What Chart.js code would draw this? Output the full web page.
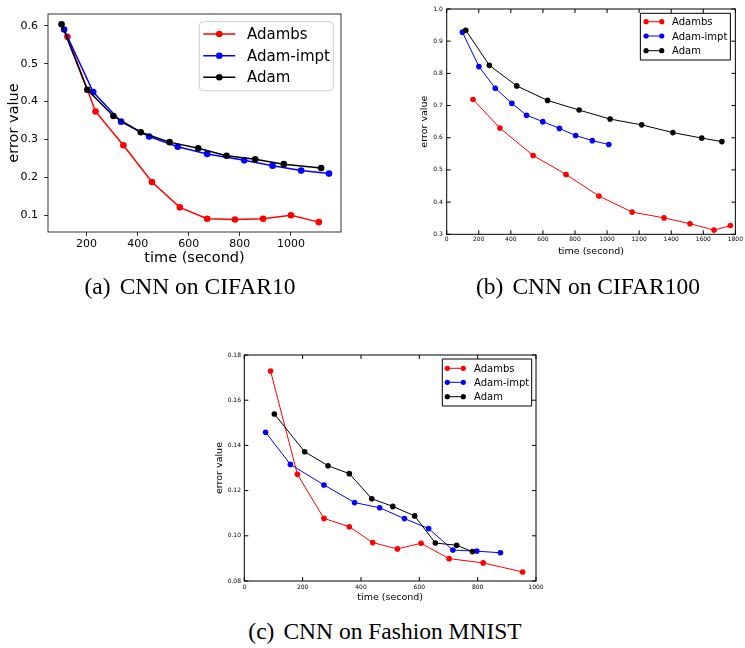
<!DOCTYPE html>
<html>
<head>
<meta charset="utf-8">
<script src="https://cdn.jsdelivr.net/npm/chart.js@4.4.0/dist/chart.umd.min.js"></script>
<style>
  body { margin: 0; background: #fff; width: 745px; height: 648px; position: relative; overflow: hidden; }
  canvas { position: absolute; }
  .cap { position: absolute; font-family: 'Liberation Serif', 'Times New Roman', serif; font-size: 23.5px; color: #000;
         white-space: nowrap; transform: translate(-50%, -50%); }
  .cap span { margin-right: 9px; }
</style>
</head>
<body>
<canvas id="chartA" width="360" height="280" style="left:0;top:0"></canvas>
<canvas id="chartB" width="345" height="270" style="left:400px;top:0"></canvas>
<canvas id="chartC" width="340" height="270" style="left:210px;top:345px"></canvas>
<div class="cap" style="left:190px;top:286px"><span>(a)</span>CNN on CIFAR10</div>
<div class="cap" style="left:588px;top:286px"><span>(b)</span>CNN on CIFAR100</div>
<div class="cap" style="left:385px;top:631px"><span>(c)</span>CNN on Fashion MNIST</div>
<script>
// Datos
const seriesNames = ['Adambs', 'Adam-impt', 'Adam'];
const seriesColors = ['#ff0000', '#0000ff', '#000000'];

// (a) CNN on CIFAR10
const cifar10AdambsTime = [125, 235, 344, 456, 565, 672, 781, 891, 1000, 1109];
const cifar10AdambsErr  = [0.571, 0.374, 0.285, 0.188, 0.121, 0.091, 0.089, 0.091, 0.100, 0.082];
const cifar10ImptTime   = [112, 226, 335, 445, 557, 672, 817, 928, 1040, 1149];
const cifar10ImptErr    = [0.590, 0.425, 0.347, 0.308, 0.281, 0.262, 0.245, 0.231, 0.218, 0.210];
const cifar10AdamTime   = [102, 203, 305, 412, 525, 637, 748, 860, 972, 1118];
const cifar10AdamErr    = [0.604, 0.431, 0.362, 0.319, 0.293, 0.277, 0.257, 0.248, 0.235, 0.225];

// (b) CNN on CIFAR100
const cifar100AdambsTime = [164, 332, 539, 744, 949, 1156, 1355, 1517, 1667, 1769];
const cifar100AdambsErr  = [0.719, 0.630, 0.545, 0.486, 0.419, 0.369, 0.351, 0.333, 0.313, 0.327];
const cifar100ImptTime   = [98, 201, 303, 406, 498, 599, 703, 804, 908, 1011];
const cifar100ImptErr    = [0.928, 0.821, 0.754, 0.707, 0.670, 0.650, 0.629, 0.607, 0.591, 0.579];
const cifar100AdamTime   = [119, 266, 437, 629, 826, 1019, 1216, 1410, 1590, 1716];
const cifar100AdamErr    = [0.934, 0.825, 0.761, 0.716, 0.686, 0.658, 0.640, 0.616, 0.599, 0.588];

// (c) CNN on Fashion MNIST
const fashionAdambsTime = [90, 182, 273, 360, 440, 525, 606, 702, 819, 954];
const fashionAdambsErr  = [0.1729, 0.1272, 0.1077, 0.1040, 0.0970, 0.0942, 0.0967, 0.0899, 0.0880, 0.0840];
const fashionImptTime   = [73, 158, 273, 378, 464, 549, 632, 715, 797, 878];
const fashionImptErr    = [0.1458, 0.1316, 0.1225, 0.1147, 0.1124, 0.1076, 0.1032, 0.0937, 0.0932, 0.0925];
const fashionAdamTime   = [103, 207, 287, 360, 437, 509, 584, 655, 728, 782];
const fashionAdamErr    = [0.1539, 0.1372, 0.1310, 0.1275, 0.1164, 0.1130, 0.1088, 0.0968, 0.0958, 0.0930];

const xTitle = 'time (second)';
const yTitle = 'error value';

Chart.defaults.color = '#000';
Chart.defaults.font.family = "'DejaVu Sans', sans-serif";
Chart.defaults.animation = false;

function toPoints(xs, ys) {
    return xs.map((x, i) => ({ x: x, y: ys[i] }));
}

function buildDatasets(pairs, lw, r) {
    return pairs.map((p, i) => ({
        label: seriesNames[i],
        data: toPoints(p[0], p[1]),
        borderColor: seriesColors[i],
        backgroundColor: seriesColors[i],
        borderWidth: lw,
        pointRadius: r,
        pointBorderWidth: 0,
        pointHoverRadius: r,
        tension: 0,
        order: 2 - i   // Adam encima, como en matplotlib
    }));
}

// marco completo + ticks hacia dentro (estilo clásico)
function framePlugin(lw, inward) {
    return {
        id: 'frame',
        afterDatasetsDraw(chart) {
            const { ctx, chartArea: a } = chart;
            ctx.save();
            ctx.strokeStyle = '#000';
            ctx.lineWidth = lw;
            ctx.strokeRect(a.left, a.top, a.right - a.left, a.bottom - a.top);
            if (inward) {
                const t = 4;
                ctx.beginPath();
                chart.scales.x.ticks.forEach(tk => {
                    const px = chart.scales.x.getPixelForValue(tk.value);
                    ctx.moveTo(px, a.bottom); ctx.lineTo(px, a.bottom - t);
                    ctx.moveTo(px, a.top); ctx.lineTo(px, a.top + t);
                });
                chart.scales.y.ticks.forEach(tk => {
                    const py = chart.scales.y.getPixelForValue(tk.value);
                    ctx.moveTo(a.left, py); ctx.lineTo(a.left + t, py);
                    ctx.moveTo(a.right, py); ctx.lineTo(a.right - t, py);
                });
                ctx.stroke();
            }
            ctx.restore();
        }
    };
}

// leyenda dentro del área, arriba a la derecha
function legendPlugin(c) {
    return {
        id: 'boxLegend',
        afterDraw(chart) {
            const { ctx, chartArea: a } = chart;
            const bx = a.right - c.right - c.w, by = a.top + c.top;
            ctx.save();
            ctx.beginPath();
            if (c.rounded) ctx.roundRect(bx, by, c.w, c.h, 4); else ctx.rect(bx, by, c.w, c.h);
            ctx.fillStyle = 'rgba(255,255,255,0.8)';
            ctx.fill();
            ctx.lineWidth = c.edgeWidth;
            ctx.strokeStyle = c.edge;
            ctx.stroke();
            ctx.font = c.font + "px 'DejaVu Sans', sans-serif";
            ctx.textBaseline = 'middle';
            chart.data.datasets.forEach((ds, i) => {
                const y = by + c.rows[i];
                ctx.strokeStyle = ds.borderColor;
                ctx.fillStyle = ds.borderColor;
                ctx.lineWidth = c.lw;
                ctx.beginPath();
                ctx.moveTo(bx + c.l0, y); ctx.lineTo(bx + c.l1, y);
                ctx.stroke();
                const marks = c.two ? [c.l0, c.l1] : [(c.l0 + c.l1) / 2];
                marks.forEach(m => {
                    ctx.beginPath();
                    ctx.arc(bx + m, y, c.r, 0, Math.PI * 2);
                    ctx.fill();
                });
                ctx.fillStyle = '#000';
                ctx.fillText(ds.label, bx + c.tx, y + 1);
            });
            ctx.restore();
        }
    };
}

function fixSize(w, h) {
    return scale => {
        if (w !== null) scale.width = w;
        if (h !== null) scale.height = h;
    };
}

const plainNum = v => String(v);

// ---------- (a) estilo matplotlib 2 ----------
new Chart(document.getElementById('chartA'), {
    type: 'line',
    data: {
        datasets: buildDatasets([
            [cifar10AdambsTime, cifar10AdambsErr],
            [cifar10ImptTime, cifar10ImptErr],
            [cifar10AdamTime, cifar10AdamErr]
        ], 1.5, 3.3)
    },
    options: {
        responsive: false,
        layout: { padding: { top: 14, right: 19, left: 0, bottom: 0 } },
        plugins: { legend: { display: false }, tooltip: { enabled: false } },
        scales: {
            x: {
                type: 'linear', min: 49, max: 1196,
                afterFit: fixSize(null, 48),
                grid: { drawOnChartArea: false, drawTicks: true, tickLength: 4, color: '#000', lineWidth: 0.8 },
                border: { display: false },
                ticks: { stepSize: 200, includeBounds: false, autoSkip: false, maxRotation: 0, padding: 2,
                         font: { size: 11 }, callback: plainNum },
                title: { display: true, text: xTitle, font: { size: 14.5 }, padding: { top: 0, bottom: 13 } }
            },
            y: {
                type: 'linear', min: 0.056, max: 0.631,
                afterFit: fixSize(48, null),
                grid: { drawOnChartArea: false, drawTicks: true, tickLength: 4, color: '#000', lineWidth: 0.8 },
                border: { display: false },
                ticks: { stepSize: 0.1, includeBounds: false, padding: 6, font: { size: 11 },
                         callback: v => v.toFixed(1) },
                title: { display: true, text: yTitle, font: { size: 14.5 }, padding: { top: 6, bottom: 0 } }
            }
        }
    },
    plugins: [framePlugin(0.8, false), legendPlugin({
        right: 7.7, top: 7.7, w: 134, h: 69, rows: [12.3, 34, 55.6], l0: 4, l1: 36, tx: 47.7,
        font: 15, rounded: true, edge: '#cccccc', edgeWidth: 1, lw: 1.5, r: 3.3, two: false
    })]
});

// ---------- (b) estilo clásico ----------
new Chart(document.getElementById('chartB'), {
    type: 'line',
    data: {
        datasets: buildDatasets([
            [cifar100AdambsTime, cifar100AdambsErr],
            [cifar100ImptTime, cifar100ImptErr],
            [cifar100AdamTime, cifar100AdamErr]
        ], 1, 2.8)
    },
    options: {
        responsive: false,
        layout: { padding: { top: 9, right: 5.7, left: 0, bottom: 0 } },
        plugins: { legend: { display: false }, tooltip: { enabled: false } },
        scales: {
            x: {
                type: 'linear', min: 0, max: 1800,
                afterFit: fixSize(null, 35.7),
                grid: { display: false, drawTicks: false },
                border: { display: false },
                ticks: { stepSize: 200, autoSkip: false, maxRotation: 0, padding: 2, font: { size: 6 },
                         callback: plainNum },
                title: { display: true, text: xTitle, font: { size: 9.5 }, padding: { top: 0, bottom: 12.5 } }
            },
            y: {
                type: 'linear', min: 0.3, max: 1.0,
                afterFit: fixSize(46.7, null),
                grid: { display: false, drawTicks: false },
                border: { display: false },
                ticks: { stepSize: 0.1, padding: 4, font: { size: 6 }, callback: v => v.toFixed(1) },
                title: { display: true, text: yTitle, font: { size: 9.5 }, padding: { top: 19, bottom: 0 } }
            }
        }
    },
    plugins: [framePlugin(1, true), legendPlugin({
        right: 5, top: 4.3, w: 90, h: 46.7, rows: [8.4, 22.7, 37.4], l0: 5.7, l1: 21.4, tx: 31.7,
        font: 10, rounded: false, edge: '#000', edgeWidth: 1, lw: 1, r: 2.6, two: true
    })]
});

// ---------- (c) estilo clásico ----------
new Chart(document.getElementById('chartC'), {
    type: 'line',
    data: {
        datasets: buildDatasets([
            [fashionAdambsTime, fashionAdambsErr],
            [fashionImptTime, fashionImptErr],
            [fashionAdamTime, fashionAdamErr]
        ], 1, 2.8)
    },
    options: {
        responsive: false,
        layout: { padding: { top: 10, right: 14, left: 0, bottom: 0 } },
        plugins: { legend: { display: false }, tooltip: { enabled: false } },
        scales: {
            x: {
                type: 'linear', min: 0, max: 1000,
                afterFit: fixSize(null, 34),
                grid: { display: false, drawTicks: false },
                border: { display: false },
                ticks: { stepSize: 200, autoSkip: false, maxRotation: 0, padding: 3, font: { size: 6 },
                         callback: plainNum },
                title: { display: true, text: xTitle, font: { size: 9.5 }, padding: { top: 0, bottom: 11.5 } }
            },
            y: {
                type: 'linear', min: 0.08, max: 0.18,
                afterFit: fixSize(34.3, null),
                grid: { display: false, drawTicks: false },
                border: { display: false },
                ticks: { stepSize: 0.02, padding: 3.3, font: { size: 6 }, callback: v => v.toFixed(2) },
                title: { display: true, text: yTitle, font: { size: 9.5 }, padding: { top: 4, bottom: 0 } }
            }
        }
    },
    plugins: [framePlugin(1, true), legendPlugin({
        right: 4.3, top: 4, w: 89.4, h: 47, rows: [9.3, 23.3, 37.7], l0: 5, l1: 21, tx: 31.7,
        font: 10, rounded: false, edge: '#000', edgeWidth: 1, lw: 1, r: 2.6, two: true
    })]
});
</script>
</body>
</html>
